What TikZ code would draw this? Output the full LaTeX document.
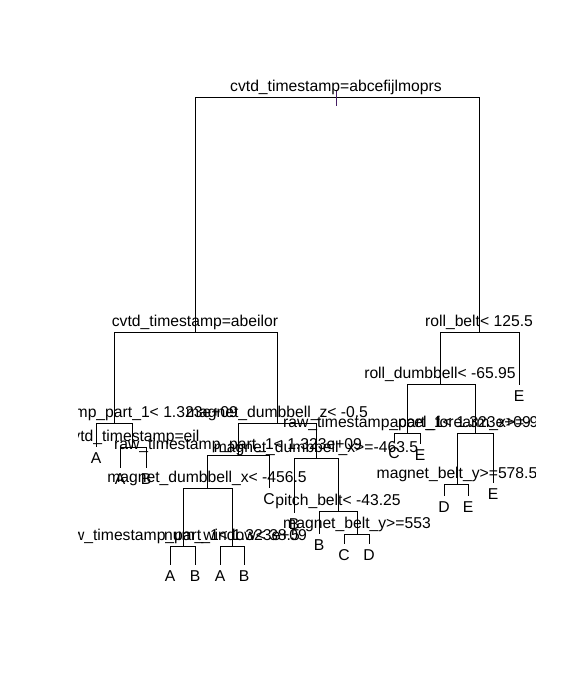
\documentclass[tikz,border=0pt]{standalone}
\usepackage{fontspec}
\setmainfont{Liberation Sans}
\usetikzlibrary{positioning}
\definecolor{tickcol}{RGB}{70,30,100}

\begin{document}
\begin{tikzpicture}[x=1pt,y=-1pt]
        \tikzstyle{every node}+=[inner sep=0pt, font=\fontsize{15.7}{18}\selectfont]
        \tikzstyle{split}=[text depth=0pt]
        \tikzstyle{leaf}=[]
        \tikzstyle{branch}=[black, line width=0.9pt]
        \useasboundingbox (0,0) rectangle (576,682);
        \fill [white] (0,0) rectangle (576,682);
        \begin{scope}
        \clip (78.7,78.7) rectangle (535.7,584);
        % split points and leaf ends
        \coordinate (n1) at (336,97);
        \coordinate (n2) at (195,332);
        \coordinate (n3) at (479,332);
        \coordinate (n4) at (114,423);
        \coordinate (n5) at (277,423);
        \coordinate (n6) at (440,384);
        \coordinate (n7) at (519,385);
        \coordinate (n8) at (96,447);
        \coordinate (n9) at (132,447);
        \coordinate (n10) at (238,455);
        \coordinate (n11) at (316,458);
        \coordinate (n12) at (407,433);
        \coordinate (n13) at (475,433);
        \coordinate (n18) at (120,468);
        \coordinate (n19) at (146,468);
        \coordinate (n20) at (207,488);
        \coordinate (n21) at (269,488);
        \coordinate (n22) at (294,513);
        \coordinate (n23) at (338,511);
        \coordinate (n24) at (394,442);
        \coordinate (n25) at (420,444);
        \coordinate (n26) at (457,484);
        \coordinate (n27) at (493,483);
        \coordinate (n40) at (183,546);
        \coordinate (n41) at (232,546);
        \coordinate (n46) at (319,534);
        \coordinate (n47) at (357,534);
        \coordinate (n52) at (444,496);
        \coordinate (n53) at (468,496);
        \coordinate (n80) at (170,565);
        \coordinate (n81) at (195,565);
        \coordinate (n82) at (220,565);
        \coordinate (n83) at (244,565);
        \coordinate (n94) at (344,544);
        \coordinate (n95) at (369,544);
        % branches
        \draw [branch] (n1) -| (n2);
        \draw [branch] (n1) -| (n3);
        \draw [branch] (n2) -| (n4);
        \draw [branch] (n2) -| (n5);
        \draw [branch] (n3) -| (n6);
        \draw [branch] (n3) -| (n7);
        \draw [branch] (n4) -| (n8);
        \draw [branch] (n4) -| (n9);
        \draw [branch] (n5) -| (n10);
        \draw [branch] (n5) -| (n11);
        \draw [branch] (n6) -| (n12);
        \draw [branch] (n6) -| (n13);
        \draw [branch] (n9) -| (n18);
        \draw [branch] (n9) -| (n19);
        \draw [branch] (n10) -| (n20);
        \draw [branch] (n10) -| (n21);
        \draw [branch] (n11) -| (n22);
        \draw [branch] (n11) -| (n23);
        \draw [branch] (n12) -| (n24);
        \draw [branch] (n12) -| (n25);
        \draw [branch] (n13) -| (n26);
        \draw [branch] (n13) -| (n27);
        \draw [branch] (n20) -| (n40);
        \draw [branch] (n20) -| (n41);
        \draw [branch] (n23) -| (n46);
        \draw [branch] (n23) -| (n47);
        \draw [branch] (n26) -| (n52);
        \draw [branch] (n26) -| (n53);
        \draw [branch] (n40) -| (n80);
        \draw [branch] (n40) -| (n81);
        \draw [branch] (n41) -| (n82);
        \draw [branch] (n41) -| (n83);
        \draw [branch] (n47) -| (n94);
        \draw [branch] (n47) -| (n95);
        \draw [tickcol, line width=0.9pt] ([yshift=6pt]n1) -- ([yshift=-9pt]n1);
        % split labels
        \node [split, above=5pt of n1] (s1) {cvtd\_timestamp=abcefijlmoprs};
        \node [split, above=5pt of n2] (s2) {cvtd\_timestamp=abeilor};
        \node [split, above=5pt of n3] (s3) {roll\_belt< 125.5};
        \node [split, above=5pt of n4] (s4) {raw\_timestamp\_part\_1< 1.323e+09};
        \node [split, above=5pt of n5] (s5) {magnet\_dumbbell\_z< -0.5};
        \node [split, above=5pt of n6] (s6) {roll\_dumbbell< -65.95};
        \node [split, above=5pt of n9] (s9) {cvtd\_timestamp=eil};
        \node [split, above=5pt of n10] (s10) {raw\_timestamp\_part\_1< 1.323e+09};
        \node [split, above=5pt of n11] (s11) {magnet\_dumbbell\_x>=-463.5};
        \node [split, above=5pt of n12] (s12) {raw\_timestamp\_part\_1< 1.323e+09};
        \node [split, above=5pt of n13] (s13) {accel\_forearm\_x>=-98.5};
        \node [split, above=5pt of n20] (s20) {magnet\_dumbbell\_x< -456.5};
        \node [split, above=5pt of n23] (s23) {pitch\_belt< -43.25};
        \node [split, above=5pt of n26] (s26) {magnet\_belt\_y>=578.5};
        \node [split, above=5pt of n40] (s40) {raw\_timestamp\_part\_1< 1.323e+09};
        \node [split, above=5pt of n41] (s41) {num\_window< 38.5};
        \node [split, above=5pt of n47] (s47) {magnet\_belt\_y>=553};
        % leaf labels
        \node [leaf, below=5pt of n7] (c7) {E};
        \node [leaf, below=5pt of n8] (c8) {A};
        \node [leaf, below=5pt of n18] (c18) {A};
        \node [leaf, below=5pt of n19] (c19) {B};
        \node [leaf, below=5pt of n21] (c21) {C};
        \node [leaf, below=5pt of n22] (c22) {B};
        \node [leaf, below=5pt of n24] (c24) {C};
        \node [leaf, below=5pt of n25] (c25) {E};
        \node [leaf, below=5pt of n27] (c27) {E};
        \node [leaf, below=5pt of n46] (c46) {B};
        \node [leaf, below=5pt of n52] (c52) {D};
        \node [leaf, below=5pt of n53] (c53) {E};
        \node [leaf, below=5pt of n80] (c80) {A};
        \node [leaf, below=5pt of n81] (c81) {B};
        \node [leaf, below=5pt of n82] (c82) {A};
        \node [leaf, below=5pt of n83] (c83) {B};
        \node [leaf, below=5pt of n94] (c94) {C};
        \node [leaf, below=5pt of n95] (c95) {D};
        \end{scope}
    \end{tikzpicture}
\end{document}
